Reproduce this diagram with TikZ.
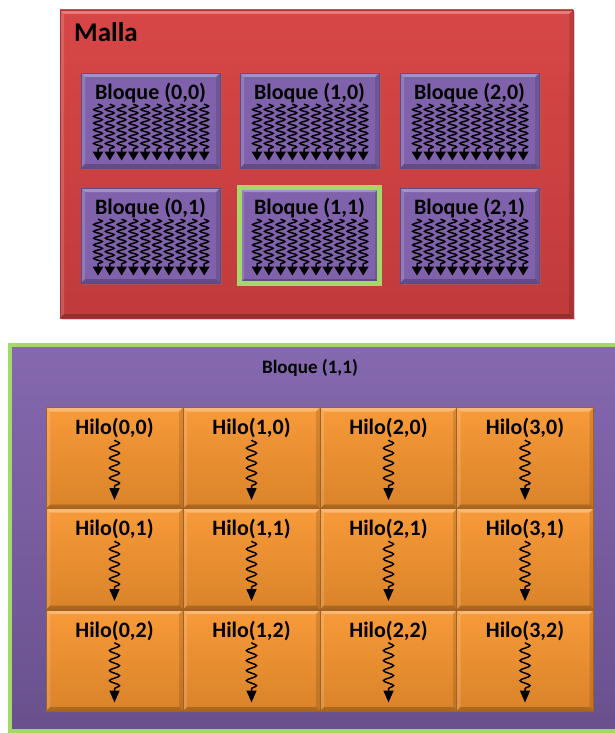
\documentclass[tikz,border=0pt]{standalone}
\usepackage{fontspec}
\setmainfont{Carlito}
\usetikzlibrary{arrows.meta,decorations.pathmorphing,shadows}
\definecolor{mred}{HTML}{D64141}
\definecolor{mpurple}{HTML}{8062AC}
\definecolor{borange}{HTML}{F7952F}
\definecolor{lgreen}{HTML}{A3D96B}
\tikzset{
  bevel/.style={path picture={
    \fill[white,opacity=.30] (path picture bounding box.north west) -- (path picture bounding box.north east) -- ([xshift=-#1,yshift=-#1]path picture bounding box.north east) -- ([xshift=#1,yshift=-#1]path picture bounding box.north west) -- cycle;
    \fill[white,opacity=.15] (path picture bounding box.north west) -- ([xshift=#1,yshift=-#1]path picture bounding box.north west) -- ([xshift=#1,yshift=#1]path picture bounding box.south west) -- (path picture bounding box.south west) -- cycle;
    \fill[black,opacity=.22] (path picture bounding box.south west) -- ([xshift=#1,yshift=#1]path picture bounding box.south west) -- ([xshift=-#1,yshift=#1]path picture bounding box.south east) -- (path picture bounding box.south east) -- cycle;
    \fill[black,opacity=.12] (path picture bounding box.north east) -- ([xshift=-#1,yshift=-#1]path picture bounding box.north east) -- ([xshift=-#1,yshift=#1]path picture bounding box.south east) -- (path picture bounding box.south east) -- cycle;
  }},
  shadowed/.style={drop shadow={opacity=0.35,shadow xshift=2pt,shadow yshift=-2pt}},
  mallabox/.style={rectangle,inner sep=0pt,shadowed,top color=mred!97!white,bottom color=mred!90!black,draw=mred!80!black,line width=0.4pt,bevel=4pt},
  blockbox/.style={rectangle,inner sep=0pt,minimum width=139pt,minimum height=95pt,shadowed,fill=mpurple,draw=mpurple!75!black,line width=0.4pt,bevel=4pt},
  bigbox/.style={rectangle,inner sep=0pt,top color=mpurple!96!white,bottom color=mpurple!82!black,draw=lgreen,line width=3.5pt},
  cellbox/.style={rectangle,inner sep=0pt,minimum width=137pt,minimum height=101pt,top color=borange!95!white,bottom color=borange!88!black,draw=borange!65!black,line width=0.5pt,bevel=4pt},
  lbl/.style={inner sep=0pt,font=\bfseries\fontsize{#1}{#1}\selectfont},
  smallwave/.style={decorate,decoration={snake,amplitude=4.3pt,segment length=6.8pt,post length=9pt},line width=1.5pt,-{Triangle[width=10.5pt,length=9pt]}},
  bigwave/.style={decorate,decoration={snake,amplitude=5pt,segment length=10pt,post length=13pt},line width=1.5pt,-{Triangle[width=10pt,length=12pt]}}
}
\begin{document}
\begin{tikzpicture}[x=1pt,y=-1pt]
\useasboundingbox (0,0) rectangle (615,733);
\clip (0,0) rectangle (615,733);
% grid
\node[mallabox,minimum width=513pt,minimum height=308pt] (malla) at (316.5,164) {};
\node[lbl=27,anchor=west] (mallalbl) at (74,32) {Malla};
\foreach \col/\cx in {0/150.5,1/309.5,2/469.5}{
  \foreach \row/\cy in {0/120.5,1/235.5}{
    \node[blockbox] (b\col\row) at (\cx,\cy) {};
    \node[lbl=22] (bl\col\row) at ([yshift=-20pt]b\col\row.north) {Bloque (\col,\row)};
    \foreach \i in {0,...,9}{
      \draw[smallwave] ([xshift=-52.5pt+\i*11.8pt,yshift=16.5pt]b\col\row.center) -- ([xshift=-52.5pt+\i*11.8pt,yshift=-40pt]b\col\row.center);
    }
  }
}
\draw[lgreen,line width=5pt] (b11.north west) rectangle (b11.south east);
% block detail
\node[bigbox,minimum width=612pt,minimum height=386pt] (big) at (316,538) {};
\node[lbl=19] (biglbl) at (310,368) {Bloque (1,1)};
\foreach \col/\cx in {0/114.5,1/251.5,2/388.5,3/525}{
  \foreach \row/\cy in {0/458,1/559,2/660.5}{
    \node[cellbox] (h\col\row) at (\cx,\cy) {};
    \node[lbl=22] (hl\col\row) at ([yshift=30pt]h\col\row.center) {Hilo(\col,\row)};
    \draw[bigwave] ([yshift=18pt]h\col\row.center) -- ([yshift=-42pt]h\col\row.center);
  }
}
\end{tikzpicture}
\end{document}
